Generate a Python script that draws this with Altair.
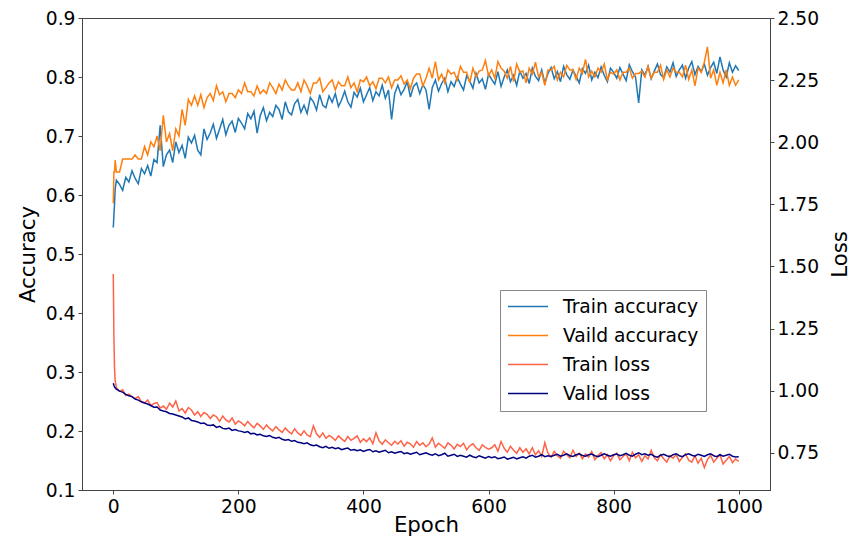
import altair as alt
import pandas as pd

# Epoch index of each recorded point
epochs = [0, 1, 2, 3] + list(range(5, 1001, 5))

train_accuracy = [
    0.545, 0.565, 0.585, 0.610,
    0.625, 0.618, 0.608, 0.630, 0.622, 0.641, 0.628, 0.619, 0.645, 0.636,
    0.650, 0.632, 0.660, 0.655, 0.718, 0.648, 0.668, 0.676, 0.655, 0.690,
    0.672, 0.684, 0.662, 0.698, 0.688, 0.701, 0.676, 0.668, 0.712, 0.694,
    0.705, 0.720, 0.696, 0.712, 0.728, 0.702, 0.718, 0.725, 0.706, 0.730,
    0.722, 0.712, 0.738, 0.729, 0.742, 0.705, 0.735, 0.748, 0.726, 0.740,
    0.733, 0.752, 0.745, 0.728, 0.758, 0.741, 0.736, 0.755, 0.762, 0.740,
    0.752, 0.738, 0.765, 0.758, 0.744, 0.770, 0.752, 0.748, 0.768, 0.757,
    0.772, 0.750, 0.761, 0.776, 0.758, 0.749, 0.774, 0.766, 0.781, 0.758,
    0.770, 0.782, 0.760, 0.775, 0.768, 0.786, 0.764, 0.778, 0.728, 0.772,
    0.786, 0.770, 0.779, 0.792, 0.766, 0.784, 0.790, 0.772, 0.787, 0.778,
    0.745, 0.782, 0.795, 0.776, 0.789, 0.798, 0.775, 0.792, 0.784, 0.800,
    0.788, 0.778, 0.802, 0.793, 0.781, 0.806, 0.790, 0.797, 0.779, 0.805,
    0.796, 0.788, 0.809, 0.784, 0.800, 0.812, 0.792, 0.803, 0.786, 0.810,
    0.798, 0.806, 0.789, 0.815, 0.801, 0.794, 0.812, 0.790, 0.806, 0.816,
    0.797, 0.809, 0.792, 0.818, 0.804, 0.796, 0.812, 0.801, 0.790, 0.814,
    0.806, 0.820, 0.795, 0.808, 0.799, 0.817, 0.803, 0.792, 0.815, 0.808,
    0.798, 0.816, 0.805, 0.794, 0.821, 0.809, 0.800, 0.756, 0.812, 0.803,
    0.818, 0.797, 0.810, 0.822, 0.804, 0.799, 0.817, 0.808, 0.824, 0.801,
    0.812, 0.820, 0.798, 0.815, 0.826, 0.804, 0.818, 0.809, 0.822, 0.803,
    0.816, 0.825, 0.806, 0.834, 0.812, 0.800, 0.824, 0.808, 0.819, 0.811,
]

valid_accuracy = [
    0.586, 0.639, 0.639, 0.659,
    0.639, 0.639, 0.661, 0.661, 0.661, 0.661, 0.668, 0.661, 0.661, 0.682,
    0.668, 0.690, 0.682, 0.700, 0.675, 0.735, 0.690, 0.704, 0.675, 0.712,
    0.700, 0.745, 0.718, 0.762, 0.752, 0.768, 0.752, 0.770, 0.748, 0.765,
    0.772, 0.760, 0.785, 0.770, 0.775, 0.758, 0.772, 0.772, 0.765, 0.778,
    0.772, 0.790, 0.775, 0.775, 0.768, 0.785, 0.772, 0.778, 0.772, 0.790,
    0.782, 0.772, 0.788, 0.778, 0.795, 0.785, 0.778, 0.778, 0.790, 0.775,
    0.795, 0.785, 0.772, 0.790, 0.790, 0.798, 0.775, 0.782, 0.790, 0.795,
    0.778, 0.792, 0.785, 0.785, 0.800, 0.782, 0.790, 0.775, 0.795, 0.792,
    0.800, 0.785, 0.792, 0.780, 0.798, 0.798, 0.790, 0.800, 0.782, 0.795,
    0.795, 0.802, 0.788, 0.795, 0.780, 0.798, 0.805, 0.805, 0.785, 0.798,
    0.815, 0.798, 0.826, 0.795, 0.805, 0.790, 0.812, 0.805, 0.808, 0.795,
    0.818, 0.808, 0.808, 0.790, 0.815, 0.800, 0.810, 0.812, 0.828, 0.802,
    0.812, 0.798, 0.826, 0.815, 0.810, 0.798, 0.818, 0.792, 0.822, 0.808,
    0.810, 0.790, 0.815, 0.805, 0.825, 0.800, 0.808, 0.786, 0.812, 0.812,
    0.818, 0.795, 0.808, 0.800, 0.820, 0.812, 0.812, 0.796, 0.815, 0.806,
    0.830, 0.800, 0.810, 0.800, 0.815, 0.808, 0.822, 0.795, 0.808, 0.805,
    0.812, 0.795, 0.808, 0.808, 0.815, 0.798, 0.806, 0.806, 0.810, 0.800,
    0.818, 0.798, 0.808, 0.808, 0.820, 0.796, 0.812, 0.800, 0.815, 0.808,
    0.808, 0.800, 0.820, 0.796, 0.812, 0.785, 0.815, 0.808, 0.825, 0.851,
    0.798, 0.812, 0.786, 0.808, 0.790, 0.812, 0.786, 0.800, 0.786, 0.795,
]

train_loss = [
    1.470, 1.220, 1.090, 1.040,
    1.012, 0.998, 1.004, 0.980, 0.986, 0.975, 0.968, 0.976, 0.955, 0.950,
    0.962, 0.940, 0.948, 0.952, 0.930, 0.938, 0.925, 0.950, 0.934, 0.958,
    0.918, 0.928, 0.910, 0.932, 0.922, 0.902, 0.915, 0.896, 0.912, 0.905,
    0.888, 0.902, 0.895, 0.876, 0.898, 0.882, 0.874, 0.890, 0.865, 0.878,
    0.870, 0.858, 0.876, 0.862, 0.850, 0.868, 0.858, 0.844, 0.862, 0.848,
    0.838, 0.855, 0.842, 0.832, 0.850, 0.836, 0.826, 0.846, 0.830, 0.820,
    0.838, 0.822, 0.815, 0.858, 0.826, 0.812, 0.830, 0.808, 0.820, 0.812,
    0.800, 0.818, 0.806, 0.796, 0.815, 0.800, 0.808, 0.818, 0.792, 0.806,
    0.795, 0.810, 0.786, 0.830, 0.798, 0.784, 0.802, 0.790, 0.780, 0.796,
    0.785, 0.798, 0.776, 0.792, 0.786, 0.772, 0.795, 0.780, 0.790, 0.774,
    0.785, 0.810, 0.772, 0.788, 0.778, 0.768, 0.790, 0.780, 0.765, 0.784,
    0.775, 0.788, 0.762, 0.778, 0.786, 0.770, 0.760, 0.782, 0.772, 0.764,
    0.770, 0.782, 0.756, 0.795, 0.768, 0.752, 0.776, 0.760, 0.748, 0.770,
    0.752, 0.766, 0.745, 0.770, 0.742, 0.758, 0.735, 0.790, 0.748, 0.732,
    0.755, 0.738, 0.728, 0.756, 0.742, 0.730, 0.760, 0.735, 0.748, 0.726,
    0.745, 0.732, 0.755, 0.722, 0.740, 0.750, 0.725, 0.742, 0.718, 0.738,
    0.748, 0.722, 0.735, 0.745, 0.718, 0.752, 0.730, 0.742, 0.715, 0.738,
    0.725, 0.760, 0.730, 0.718, 0.742, 0.726, 0.712, 0.738, 0.728, 0.742,
    0.715, 0.732, 0.745, 0.720, 0.712, 0.738, 0.708, 0.728, 0.690, 0.722,
    0.740, 0.712, 0.728, 0.742, 0.705, 0.720, 0.735, 0.710, 0.725, 0.715,
]

valid_loss = [
    1.030, 1.022, 1.015, 1.012,
    1.006, 0.998, 0.994, 0.985, 0.979, 0.976, 0.966, 0.962, 0.955, 0.950,
    0.946, 0.940, 0.933, 0.934, 0.922, 0.918, 0.915, 0.908, 0.906, 0.902,
    0.898, 0.894, 0.886, 0.890, 0.880, 0.878, 0.874, 0.868, 0.870, 0.862,
    0.860, 0.862, 0.852, 0.856, 0.848, 0.846, 0.849, 0.840, 0.843, 0.838,
    0.836, 0.832, 0.835, 0.826, 0.828, 0.822, 0.824, 0.818, 0.815, 0.819,
    0.812, 0.808, 0.812, 0.804, 0.800, 0.803, 0.796, 0.799, 0.792, 0.790,
    0.786, 0.790, 0.782, 0.778, 0.781, 0.774, 0.770, 0.776, 0.768, 0.772,
    0.766, 0.770, 0.762, 0.766, 0.769, 0.760, 0.763, 0.758, 0.762, 0.755,
    0.760, 0.763, 0.754, 0.758, 0.752, 0.756, 0.760, 0.750, 0.754, 0.748,
    0.752, 0.755, 0.746, 0.750, 0.744, 0.748, 0.752, 0.742, 0.746, 0.750,
    0.744, 0.740, 0.746, 0.738, 0.742, 0.748, 0.736, 0.740, 0.744, 0.735,
    0.740, 0.736, 0.732, 0.740, 0.734, 0.730, 0.738, 0.733, 0.728, 0.735,
    0.730, 0.734, 0.726, 0.729, 0.733, 0.724, 0.728, 0.732, 0.725, 0.730,
    0.734, 0.728, 0.736, 0.740, 0.732, 0.736, 0.742, 0.734, 0.738, 0.735,
    0.740, 0.744, 0.736, 0.740, 0.746, 0.738, 0.735, 0.742, 0.746, 0.739,
    0.736, 0.742, 0.745, 0.738, 0.734, 0.740, 0.746, 0.740, 0.736, 0.742,
    0.745, 0.738, 0.742, 0.748, 0.740, 0.736, 0.744, 0.750, 0.742, 0.746,
    0.740, 0.744, 0.736, 0.732, 0.740, 0.744, 0.738, 0.734, 0.742, 0.746,
    0.738, 0.734, 0.742, 0.746, 0.740, 0.736, 0.744, 0.740, 0.735, 0.742,
    0.746, 0.738, 0.734, 0.742, 0.736, 0.740, 0.744, 0.736, 0.733, 0.734,
]

series_names = ["Train accuracy", "Vaild accuracy", "Train loss", "Valid loss"]
series_colors = ["#1f77b4", "#ff7f0e", "#ff6347", "#000080"]

acc_ticks = [0.1, 0.2, 0.3, 0.4, 0.5, 0.6, 0.7, 0.8, 0.9]
loss_ticks = [0.75, 1.0, 1.25, 1.5, 1.75, 2.0, 2.25, 2.5]
epoch_ticks = [0, 200, 400, 600, 800, 1000]

acc_df = pd.concat([
    pd.DataFrame({"epoch": epochs, "value": train_accuracy, "series": series_names[0]}),
    pd.DataFrame({"epoch": epochs, "value": valid_accuracy, "series": series_names[1]}),
])
loss_df = pd.concat([
    pd.DataFrame({"epoch": epochs, "value": train_loss, "series": series_names[2]}),
    pd.DataFrame({"epoch": epochs, "value": valid_loss, "series": series_names[3]}),
])

FONT = "DejaVu Sans"

x_enc = alt.X(
    "epoch:Q",
    scale=alt.Scale(domain=[-50, 1050], nice=False, zero=False),
    axis=alt.Axis(
        values=epoch_ticks, title="Epoch", format="d",
        titleBaseline="alphabetic", titleY=41,
    ),
)

color_enc = alt.Color(
    "series:N",
    scale=alt.Scale(domain=series_names, range=series_colors),
    legend=alt.Legend(
        title=None,
        orient="none",
        legendX=418,
        legendY=272,
        symbolType="stroke",
        symbolSize=1600,
        symbolStrokeWidth=1.5,
        clipHeight=19,
        rowPadding=9,
        labelOffset=14,
        labelFont=FONT,
        labelFontSize=18.7,
        labelColor="#000000",
        labelLimit=400,
        padding=7,
        strokeColor="#888888",
        fillColor="#ffffff",
        cornerRadius=0,
    ),
)

acc = alt.Chart(acc_df).mark_line(strokeWidth=1.5).encode(
    x=x_enc,
    y=alt.Y(
        "value:Q",
        scale=alt.Scale(domain=[0.1, 0.9], nice=False, zero=False),
        axis=alt.Axis(
            values=acc_ticks, format=".1f", title="Accuracy", orient="left",
            titleAngle=270, titleBaseline="middle", titleAlign="center",
            titleX=-54, titleY=236,
        ),
    ),
    color=color_enc,
)

loss = alt.Chart(loss_df).mark_line(strokeWidth=1.5).encode(
    x=x_enc,
    y=alt.Y(
        "value:Q",
        scale=alt.Scale(domain=[0.6, 2.5], nice=False, zero=False),
        axis=alt.Axis(
            values=loss_ticks, format=".2f", title="Loss", orient="right",
            titleAngle=270, titleBaseline="middle", titleAlign="center",
            titleX=70, titleY=236,
        ),
    ),
    color=color_enc,
)

chart = (
    alt.layer(acc, loss)
    .resolve_scale(y="independent")
    .properties(
        width=688,
        height=472,
        autosize=alt.AutoSizeParams(type="none"),
        padding={"left": 82, "top": 18, "right": 91, "bottom": 49},
        background="#ffffff",
    )
    .configure_view(stroke="#444444", strokeWidth=1)
    .configure_axis(
        grid=False,
        labelFont=FONT,
        labelFontSize=18.7,
        labelColor="#000000",
        labelPadding=3,
        titleFont=FONT,
        titleFontSize=21.3,
        titleFontWeight="normal",
        titleColor="#000000",
        tickSize=4,
        tickColor="#444444",
        domainColor="#444444",
        labelFlush=False,
        labelOverlap=False,
    )
)

chart.save("out.html", embed_options={"renderer": "svg", "actions": False})
